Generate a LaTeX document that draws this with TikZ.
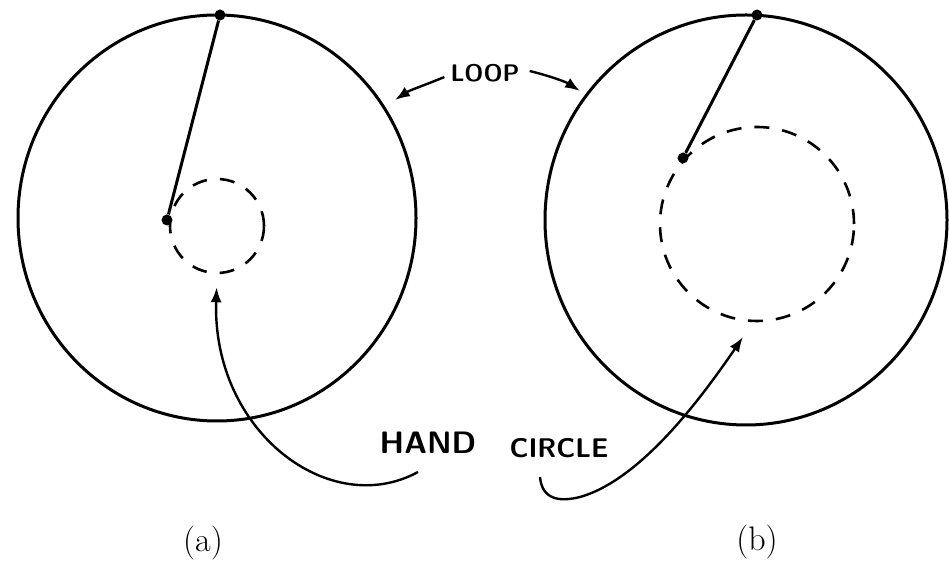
\documentclass[tikz,border=0pt]{standalone}
\usepackage{tikz}
\usetikzlibrary{arrows.meta}

\tikzset{
  loopline/.style={line width=3pt, line join=round},
  handcirc/.style={draw, circle, dashed, line width=2.6pt, dash pattern=on 15pt off 13pt, inner sep=0pt},
  dot/.style={circle, fill=black, inner sep=0pt, minimum size=11pt},
  pointer/.style={line width=2.4pt, -{Latex[length=15pt,width=11pt]}},
  lbl/.style={font=\sffamily, inner sep=0pt}
}

\begin{document}
\begin{tikzpicture}[x=1pt, y=1pt]
\useasboundingbox (0,0) rectangle (949,572);
% loops (y measured upward)
\draw[loopline] (217,354) ellipse [x radius=199, y radius=203];
\draw[loopline] (746,352) ellipse [x radius=201, y radius=205];

% pivots and hand circles
\node[dot] (topA) at (220,557) {};
\node[dot] (pivA) at (167,352) {};
\node[handcirc, minimum size=94pt] (hcA) at (217,346) {};
\draw[loopline] (topA) -- (pivA);

\node[dot] (topB) at (757,557) {};
\node[dot] (pivB) at (683,414) {};
\node[handcirc, minimum size=194pt] (hcB) at (757,348) {};
\draw[loopline] (topB) -- (pivB);

% labels
\node[lbl, font=\sffamily\bfseries\fontsize{24}{26}\selectfont] (looptxt) at (485,499) {LOOP};
\coordinate (loopA) at (395,472);
\coordinate (loopB) at (580,481);
\draw[pointer] (looptxt.west) ++(-6,-4) .. controls (428,488) and (410,482) .. (loopA);
\draw[pointer] (looptxt.east) ++(10,2) .. controls (550,496) and (566,490) .. (loopB);

\node[lbl, font=\sffamily\bfseries\fontsize{31}{33}\selectfont] (handtxt) at (428,129) {HAND};
\node[lbl, font=\sffamily\bfseries\fontsize{27}{29}\selectfont] (circtxt) at (559,124) {CIRCLE};
\coordinate (hA) at (418,100);
\coordinate (hB) at (540,95);
\draw[pointer, shorten >=13pt] (hA) .. controls (330,52) and (212,140) .. (hcA.south);
\draw[pointer] (hB) .. controls (542,72) and (560,70) .. (580,75)
  .. controls (640,92) and (700,172) .. (743,235);

\node[lbl, font=\fontsize{34}{36}\selectfont] (capA) at (203,29) {(a)};
\node[lbl, font=\fontsize{34}{36}\selectfont] (capB) at (757,30) {(b)};
\end{tikzpicture}
\end{document}
